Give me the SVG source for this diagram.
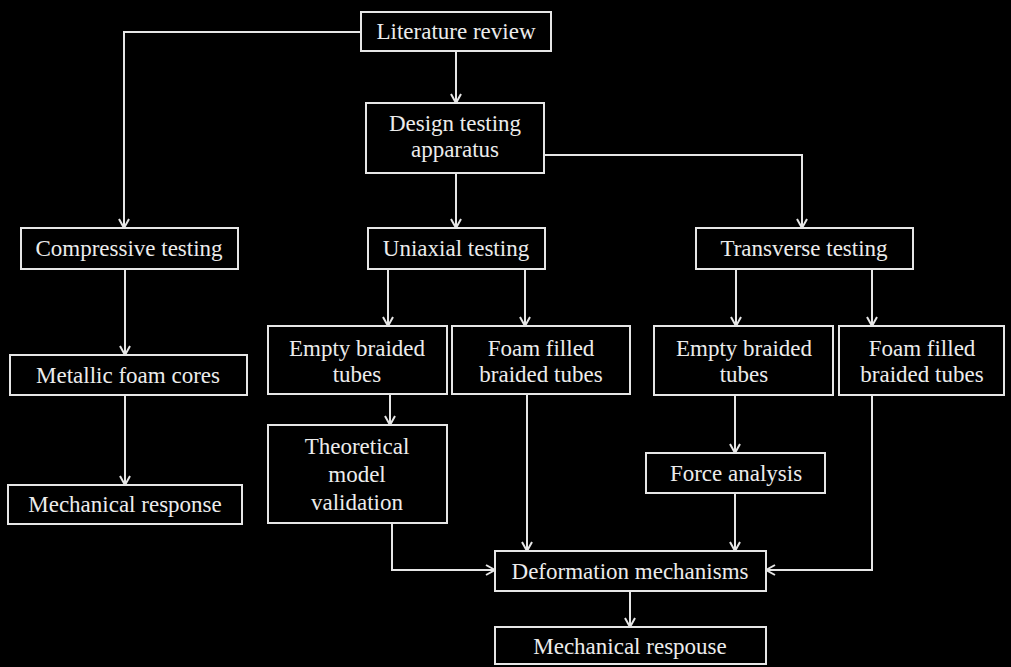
<svg xmlns="http://www.w3.org/2000/svg" width="1011" height="667" viewBox="0 0 1011 667">
  <style>
    .bg { fill: #000; }
    .box { fill: #000; stroke: #e6e6e6; stroke-width: 2; }
    .lbl { fill: #ececec; font-family: "Liberation Serif", "Times New Roman", serif; font-size: 23px; text-anchor: middle; }
    .edge { fill: none; stroke: #e6e6e6; stroke-width: 2; marker-end: url(#arr); }
  </style>
  <defs>
    <marker id="arr" markerUnits="userSpaceOnUse" viewBox="-1 -7 13 14" markerWidth="13" markerHeight="14" refX="10" refY="0" orient="auto">
      <path d="M1,-5 L10,0 L1,5" fill="none" stroke="#e6e6e6" stroke-width="2"/>
    </marker>
  </defs>
  <rect class="bg" x="0" y="0" width="1011" height="667"/>

  <g id="connectors">
    <path class="edge" d="M361,32 H124 V228"/>
    <path class="edge" d="M456,51 V103"/>
    <path class="edge" d="M456,173 V228"/>
    <path class="edge" d="M544,155 H802 V228"/>
    <path class="edge" d="M125,269 V355"/>
    <path class="edge" d="M125,395 V485"/>
    <path class="edge" d="M388,269 V326"/>
    <path class="edge" d="M525,269 V326"/>
    <path class="edge" d="M736,269 V326"/>
    <path class="edge" d="M872,269 V326"/>
    <path class="edge" d="M390,394 V425"/>
    <path class="edge" d="M392,523 V570 H495"/>
    <path class="edge" d="M527,394 V551"/>
    <path class="edge" d="M735,395 V453"/>
    <path class="edge" d="M735,493 V551"/>
    <path class="edge" d="M872,395 V570 H766"/>
    <path class="edge" d="M630,591 V627"/>
  </g>

  <g id="literature-review">
    <rect class="box" x="361" y="12" width="190" height="39"/>
    <text class="lbl" x="456" y="39">Literature review</text>
  </g>
  <g id="design-testing">
    <rect class="box" x="366" y="103" width="178" height="70"/>
    <text class="lbl" x="455" y="131">Design testing</text>
    <text class="lbl" x="455" y="157">apparatus</text>
  </g>
  <g id="compressive-testing">
    <rect class="box" x="21" y="228" width="217" height="41"/>
    <text class="lbl" x="129" y="256">Compressive testing</text>
  </g>
  <g id="uniaxial-testing">
    <rect class="box" x="368" y="228" width="177" height="41"/>
    <text class="lbl" x="456" y="256">Uniaxial testing</text>
  </g>
  <g id="transverse-testing">
    <rect class="box" x="696" y="228" width="217" height="41"/>
    <text class="lbl" x="804" y="256">Transverse testing</text>
  </g>
  <g id="metallic-foam-cores">
    <rect class="box" x="10" y="355" width="237" height="40"/>
    <text class="lbl" x="128" y="383">Metallic foam cores</text>
  </g>
  <g id="mechanical-response-left">
    <rect class="box" x="8" y="485" width="234" height="39"/>
    <text class="lbl" x="125" y="512">Mechanical response</text>
  </g>
  <g id="empty-braided-uniaxial">
    <rect class="box" x="268" y="326" width="179" height="68"/>
    <text class="lbl" x="357" y="356">Empty braided</text>
    <text class="lbl" x="357" y="382">tubes</text>
  </g>
  <g id="foam-filled-uniaxial">
    <rect class="box" x="452" y="326" width="178" height="68"/>
    <text class="lbl" x="541" y="356">Foam filled</text>
    <text class="lbl" x="541" y="382">braided tubes</text>
  </g>
  <g id="empty-braided-transverse">
    <rect class="box" x="654" y="326" width="179" height="69"/>
    <text class="lbl" x="744" y="356">Empty braided</text>
    <text class="lbl" x="744" y="382">tubes</text>
  </g>
  <g id="foam-filled-transverse">
    <rect class="box" x="839" y="326" width="165" height="69"/>
    <text class="lbl" x="922" y="356">Foam filled</text>
    <text class="lbl" x="922" y="382">braided tubes</text>
  </g>
  <g id="theoretical-model-validation">
    <rect class="box" x="268" y="425" width="179" height="98"/>
    <text class="lbl" x="357" y="454">Theoretical</text>
    <text class="lbl" x="357" y="482">model</text>
    <text class="lbl" x="357" y="510">validation</text>
  </g>
  <g id="force-analysis">
    <rect class="box" x="646" y="453" width="179" height="40"/>
    <text class="lbl" x="736" y="481">Force analysis</text>
  </g>
  <g id="deformation-mechanisms">
    <rect class="box" x="495" y="551" width="271" height="40"/>
    <text class="lbl" x="630" y="579">Deformation mechanisms</text>
  </g>
  <g id="mechanical-response-bottom">
    <rect class="box" x="495" y="627" width="271" height="37"/>
    <text class="lbl" x="630" y="654">Mechanical respouse</text>
  </g>
</svg>
